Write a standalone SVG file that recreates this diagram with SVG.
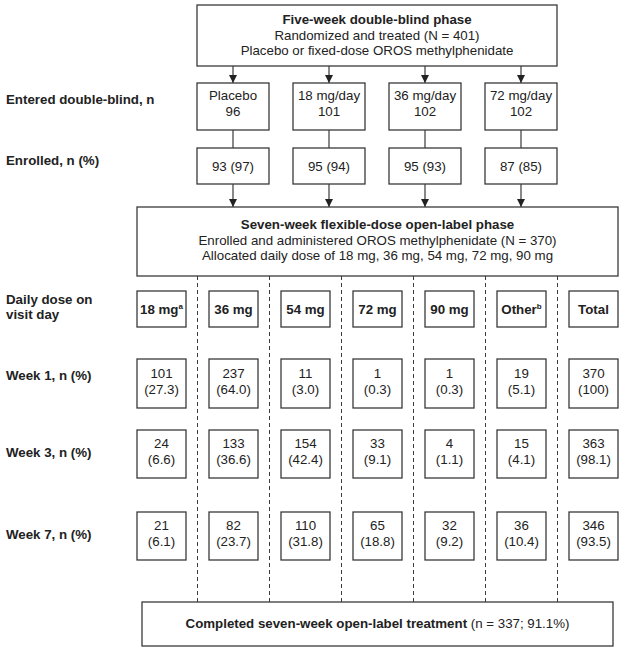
<svg xmlns="http://www.w3.org/2000/svg" width="624" height="652" viewBox="0 0 624 652">
<style>
text{font-family:"Liberation Sans",Arial,sans-serif;font-size:13.3px;fill:#222;}
.b{font-weight:bold;}
.c{text-anchor:middle;}
.box{fill:#fff;stroke:#3a3a3a;stroke-width:1.3;}
.ln{stroke:#3a3a3a;stroke-width:1.2;fill:none;}
.dash{stroke:#3a3a3a;stroke-width:1;stroke-dasharray:4 3;fill:none;}
.sup{font-size:8px;}
</style>
<defs>
<marker id="ah" markerUnits="userSpaceOnUse" markerWidth="8" markerHeight="8" refX="8" refY="4" orient="auto">
<path d="M0,0 L8,4 L0,8 z" fill="#222"/>
</marker>
</defs>
<rect width="624" height="652" fill="#fff"/>

<g id="labels">
<text class="b" x="6" y="104">Entered double-blind, n</text>
<text class="b" x="6" y="165">Enrolled, n (%)</text>
<text class="b" x="6" y="304">Daily dose on</text>
<text class="b" x="6" y="319">visit day</text>
<text class="b" x="6" y="380">Week 1, n (%)</text>
<text class="b" x="6" y="457">Week 3, n (%)</text>
<text class="b" x="6" y="539">Week 7, n (%)</text>
</g>

<g id="connectors">
<line class="ln" x1="233" y1="66" x2="233" y2="83" marker-end="url(#ah)"/>
<line class="ln" x1="329" y1="66" x2="329" y2="83" marker-end="url(#ah)"/>
<line class="ln" x1="425" y1="66" x2="425" y2="83" marker-end="url(#ah)"/>
<line class="ln" x1="521" y1="66" x2="521" y2="83" marker-end="url(#ah)"/>
<line class="ln" x1="233" y1="130" x2="233" y2="148"/>
<line class="ln" x1="329" y1="130" x2="329" y2="148"/>
<line class="ln" x1="425" y1="130" x2="425" y2="148"/>
<line class="ln" x1="521" y1="130" x2="521" y2="148"/>
<line class="ln" x1="233" y1="184" x2="233" y2="207" marker-end="url(#ah)"/>
<line class="ln" x1="329" y1="184" x2="329" y2="207" marker-end="url(#ah)"/>
<line class="ln" x1="425" y1="184" x2="425" y2="207" marker-end="url(#ah)"/>
<line class="ln" x1="521" y1="184" x2="521" y2="207" marker-end="url(#ah)"/>
<line class="dash" x1="197.5" y1="276" x2="197.5" y2="602"/>
<line class="dash" x1="269.5" y1="276" x2="269.5" y2="602"/>
<line class="dash" x1="341.5" y1="276" x2="341.5" y2="602"/>
<line class="dash" x1="413.5" y1="276" x2="413.5" y2="602"/>
<line class="dash" x1="485.5" y1="276" x2="485.5" y2="602"/>
<line class="dash" x1="557.5" y1="276" x2="557.5" y2="602"/>
</g>

<g id="double-blind">
<rect class="box" x="197" y="5" width="360" height="61"/>
<text class="b c" x="377" y="24">Five-week double-blind phase</text>
<text class="c" x="377" y="39.5">Randomized and treated (N = 401)</text>
<text class="c" x="377" y="55">Placebo or fixed-dose OROS methylphenidate</text>
</g>

<g id="entered-placebo"><rect class="box" x="197" y="83" width="72" height="47"/><text class="c" x="233" y="100">Placebo</text><text class="c" x="233" y="116">96</text></g>
<g id="entered-18"><rect class="box" x="293" y="83" width="72" height="47"/><text class="c" x="329" y="100">18 mg/day</text><text class="c" x="329" y="116">101</text></g>
<g id="entered-36"><rect class="box" x="389" y="83" width="72" height="47"/><text class="c" x="425" y="100">36 mg/day</text><text class="c" x="425" y="116">102</text></g>
<g id="entered-72"><rect class="box" x="485" y="83" width="72" height="47"/><text class="c" x="521" y="100">72 mg/day</text><text class="c" x="521" y="116">102</text></g>

<g id="enrolled-placebo"><rect class="box" x="197" y="148" width="72" height="36"/><text class="c" x="233" y="171">93 (97)</text></g>
<g id="enrolled-18"><rect class="box" x="293" y="148" width="72" height="36"/><text class="c" x="329" y="171">95 (94)</text></g>
<g id="enrolled-36"><rect class="box" x="389" y="148" width="72" height="36"/><text class="c" x="425" y="171">95 (93)</text></g>
<g id="enrolled-72"><rect class="box" x="485" y="148" width="72" height="36"/><text class="c" x="521" y="171">87 (85)</text></g>

<g id="open-label">
<rect class="box" x="137" y="207" width="481" height="69"/>
<text class="b c" x="377.5" y="229">Seven-week flexible-dose open-label phase</text>
<text class="c" x="377.5" y="245">Enrolled and administered OROS methylphenidate (N = 370)</text>
<text class="c" x="377.5" y="260">Allocated daily dose of 18 mg, 36 mg, 54 mg, 72 mg, 90 mg</text>
</g>

<g id="dose-18"><rect class="box" x="137" y="291" width="49" height="36"/><text class="b c" x="161.5" y="314">18 mg<tspan class="sup" dy="-5">a</tspan></text></g>
<g id="dose-36"><rect class="box" x="209" y="291" width="49" height="36"/><text class="b c" x="233.5" y="314">36 mg</text></g>
<g id="dose-54"><rect class="box" x="281" y="291" width="49" height="36"/><text class="b c" x="305.5" y="314">54 mg</text></g>
<g id="dose-72"><rect class="box" x="353" y="291" width="49" height="36"/><text class="b c" x="377.5" y="314">72 mg</text></g>
<g id="dose-90"><rect class="box" x="425" y="291" width="49" height="36"/><text class="b c" x="449.5" y="314">90 mg</text></g>
<g id="dose-other"><rect class="box" x="497" y="291" width="49" height="36"/><text class="b c" x="521.5" y="314">Other<tspan class="sup" dy="-5">b</tspan></text></g>
<g id="dose-total"><rect class="box" x="569" y="291" width="49" height="36"/><text class="b c" x="593.5" y="314">Total</text></g>

<g id="w1-18"><rect class="box" x="137" y="359" width="49" height="49"/><text class="c" x="161.5" y="378">101</text><text class="c" x="161.5" y="394">(27.3)</text></g>
<g id="w1-36"><rect class="box" x="209" y="359" width="49" height="49"/><text class="c" x="233.5" y="378">237</text><text class="c" x="233.5" y="394">(64.0)</text></g>
<g id="w1-54"><rect class="box" x="281" y="359" width="49" height="49"/><text class="c" x="305.5" y="378">11</text><text class="c" x="305.5" y="394">(3.0)</text></g>
<g id="w1-72"><rect class="box" x="353" y="359" width="49" height="49"/><text class="c" x="377.5" y="378">1</text><text class="c" x="377.5" y="394">(0.3)</text></g>
<g id="w1-90"><rect class="box" x="425" y="359" width="49" height="49"/><text class="c" x="449.5" y="378">1</text><text class="c" x="449.5" y="394">(0.3)</text></g>
<g id="w1-other"><rect class="box" x="497" y="359" width="49" height="49"/><text class="c" x="521.5" y="378">19</text><text class="c" x="521.5" y="394">(5.1)</text></g>
<g id="w1-total"><rect class="box" x="569" y="359" width="49" height="49"/><text class="c" x="593.5" y="378">370</text><text class="c" x="593.5" y="394">(100)</text></g>

<g id="w3-18"><rect class="box" x="137" y="430" width="49" height="48"/><text class="c" x="161.5" y="448">24</text><text class="c" x="161.5" y="464">(6.6)</text></g>
<g id="w3-36"><rect class="box" x="209" y="430" width="49" height="48"/><text class="c" x="233.5" y="448">133</text><text class="c" x="233.5" y="464">(36.6)</text></g>
<g id="w3-54"><rect class="box" x="281" y="430" width="49" height="48"/><text class="c" x="305.5" y="448">154</text><text class="c" x="305.5" y="464">(42.4)</text></g>
<g id="w3-72"><rect class="box" x="353" y="430" width="49" height="48"/><text class="c" x="377.5" y="448">33</text><text class="c" x="377.5" y="464">(9.1)</text></g>
<g id="w3-90"><rect class="box" x="425" y="430" width="49" height="48"/><text class="c" x="449.5" y="448">4</text><text class="c" x="449.5" y="464">(1.1)</text></g>
<g id="w3-other"><rect class="box" x="497" y="430" width="49" height="48"/><text class="c" x="521.5" y="448">15</text><text class="c" x="521.5" y="464">(4.1)</text></g>
<g id="w3-total"><rect class="box" x="569" y="430" width="49" height="48"/><text class="c" x="593.5" y="448">363</text><text class="c" x="593.5" y="464">(98.1)</text></g>

<g id="w7-18"><rect class="box" x="137" y="512" width="49" height="48"/><text class="c" x="161.5" y="530">21</text><text class="c" x="161.5" y="546">(6.1)</text></g>
<g id="w7-36"><rect class="box" x="209" y="512" width="49" height="48"/><text class="c" x="233.5" y="530">82</text><text class="c" x="233.5" y="546">(23.7)</text></g>
<g id="w7-54"><rect class="box" x="281" y="512" width="49" height="48"/><text class="c" x="305.5" y="530">110</text><text class="c" x="305.5" y="546">(31.8)</text></g>
<g id="w7-72"><rect class="box" x="353" y="512" width="49" height="48"/><text class="c" x="377.5" y="530">65</text><text class="c" x="377.5" y="546">(18.8)</text></g>
<g id="w7-90"><rect class="box" x="425" y="512" width="49" height="48"/><text class="c" x="449.5" y="530">32</text><text class="c" x="449.5" y="546">(9.2)</text></g>
<g id="w7-other"><rect class="box" x="497" y="512" width="49" height="48"/><text class="c" x="521.5" y="530">36</text><text class="c" x="521.5" y="546">(10.4)</text></g>
<g id="w7-total"><rect class="box" x="569" y="512" width="49" height="48"/><text class="c" x="593.5" y="530">346</text><text class="c" x="593.5" y="546">(93.5)</text></g>

<g id="completed">
<rect class="box" x="142" y="602" width="471" height="44"/>
<text class="c" x="377.5" y="628"><tspan class="b">Completed seven-week open-label treatment</tspan> (n = 337; 91.1%)</text>
</g>
</svg>
